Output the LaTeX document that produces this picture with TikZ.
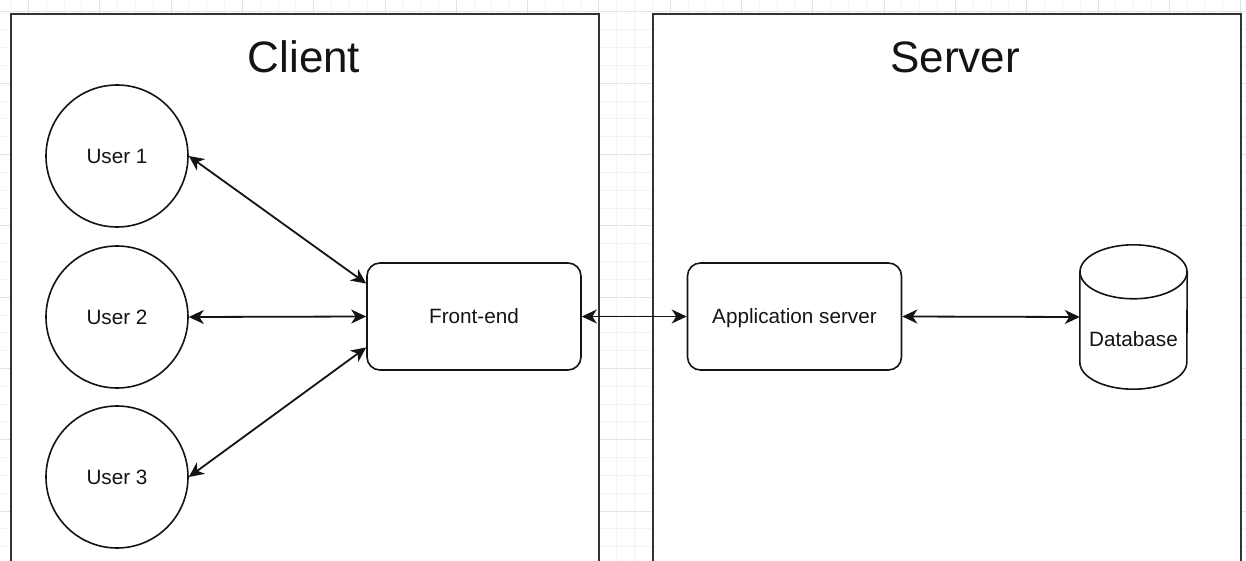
\documentclass[tikz,border=0pt]{standalone}
\usepackage{fontspec}
\setmainfont{Liberation Sans}
\usetikzlibrary{arrows.meta,calc}
\definecolor{gridminor}{HTML}{F3F3F3}
\definecolor{gridmajor}{HTML}{E3E3E3}
\definecolor{edge}{HTML}{333333}
\definecolor{ink}{HTML}{141414}

\begin{document}
\begin{tikzpicture}[x=1pt,y=-1pt,
  zone/.style={draw=edge, line width=2pt, fill=white, inner sep=0pt, anchor=north west},
  title/.style={font=\fontsize{44}{50}\selectfont, text=ink, anchor=base, inner sep=0pt},
  lbl/.style={font=\fontsize{20.7}{24}\selectfont, text=ink, text height=14.8pt, text depth=0pt},
  user/.style={lbl, circle, draw=ink, line width=1.6pt, minimum size=142pt, inner sep=0pt, fill=white},
  box/.style={lbl, rectangle, rounded corners=13pt, draw=ink, line width=1.6pt,
    minimum width=214pt, minimum height=107pt, inner sep=0pt, fill=white},
  link/.style={draw=ink, line width=1.8pt,
    {Stealth[length=15pt,width=14pt,inset=4.5pt]}-{Stealth[length=15pt,width=14pt,inset=4.5pt]}}
]
\useasboundingbox (0,0) rectangle (1246,561);
\clip (0,0) rectangle (1246,561);
\fill[white] (0,0) rectangle (1246,561);

% background grid
\foreach \k in {-1,...,68}
  \draw[gridminor, line width=1pt] ({28.5+17.825*\k},0) -- ({28.5+17.825*\k},561);
\foreach \k in {0,...,30}
  \draw[gridminor, line width=1pt] (0,{12+17.825*\k}) -- (1246,{12+17.825*\k});
\foreach \m in {0,...,17}
  \draw[gridmajor, line width=1pt] ({28.5+71.3*\m},0) -- ({28.5+71.3*\m},561);
\foreach \m in {0,...,7}
  \draw[gridmajor, line width=1pt] (0,{12+71.3*\m}) -- (1246,{12+71.3*\m});

% the two tiers
\node[zone, minimum width=588pt, minimum height=580pt] (client) at (10,13) {};
\node[zone, minimum width=588pt, minimum height=580pt] (server) at (652,13) {};
\node[title] (clientT) at (304,73) {Client};
\node[title] (serverT) at (955,73) {Server};

% client side
\node[user] (u1) at (117,156) {User 1};
\node[user] (u2) at (117,317) {User 2};
\node[user] (u3) at (117,477) {User 3};
\node[box] (fe) at (474,316.5) {Front-end};

% server side
\node[box] (app) at (794.5,316.5) {Application server};
\node[inner sep=0pt, minimum width=107pt, minimum height=144pt] (db) at (1133.5,317) {};
\draw[ink, line width=1.6pt, fill=white]
  ($(db.north west)+(0,27)$) -- ($(db.south west)+(0,-27)$)
  arc[start angle=180, end angle=360, x radius=53.5pt, y radius=27pt]
  -- ($(db.north east)+(0,27)$) -- cycle;
\draw[ink, line width=1.6pt, fill=white]
  ($(db.north)+(0,27)$) ellipse [x radius=53.5pt, y radius=27pt];
\node[lbl] (dbT) at ([yshift=-22pt]db.center) {Database};

% connectors
\draw[link] (u1.east) -- (fe.163.5);
\draw[link] (u2.east) -- (fe.west);
\draw[link] (u3.east) -- (fe.196.5);
\draw[link] (fe.east) -- (app.west);
\draw[link] (app.east) -- (db.west);
\end{tikzpicture}
\end{document}
